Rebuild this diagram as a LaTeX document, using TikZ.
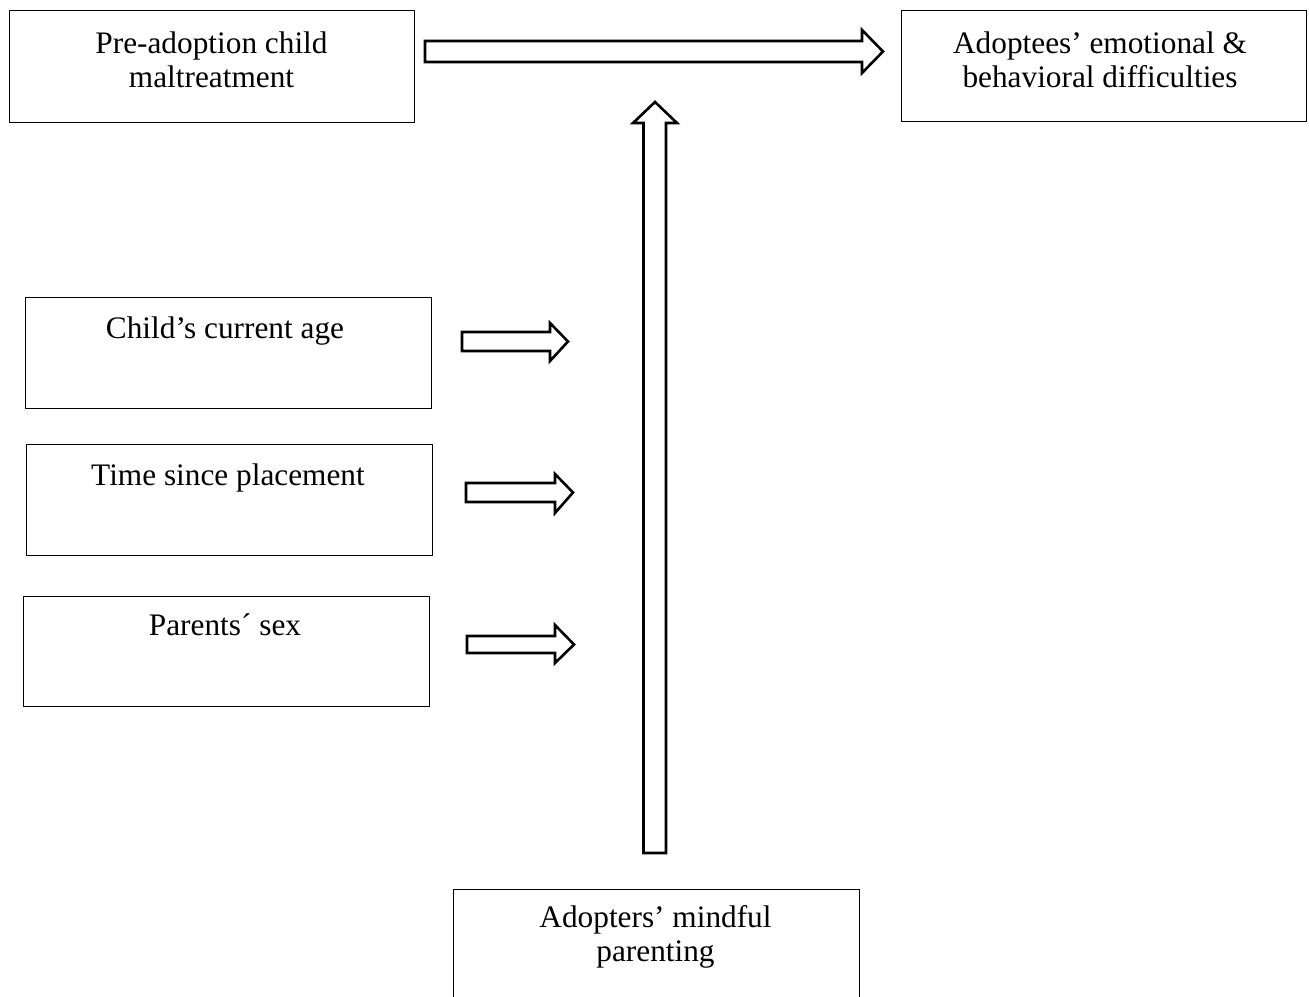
\documentclass[tikz,border=0pt]{standalone}
\usepackage{fontspec}
\setmainfont{Liberation Serif}
\begin{document}
\begin{tikzpicture}[x=1pt,y=-1pt,
  box/.style={draw, line width=1.2pt, inner sep=0, anchor=north west},
  lbl/.style={font=\fontsize{31.3}{34.5}\selectfont, align=center, inner sep=0, anchor=base},
  blockarrow/.style={draw, line width=2.6pt, fill=white, line join=miter}]
\useasboundingbox (0,0) rectangle (1309,996);
\clip (0,0) rectangle (1309,996);
% boxes
\node[box, minimum width=405, minimum height=112] (pre) at (9,10) {};
\node[box, minimum width=405, minimum height=111] (out) at (901,10) {};
\node[box, minimum width=406, minimum height=111] (age) at (25,297) {};
\node[box, minimum width=406, minimum height=111] (time) at (26,444) {};
\node[box, minimum width=406, minimum height=110] (sex) at (23,596) {};
\node[box, minimum width=406, minimum height=130] (mind) at (453,889) {};
% texts (base anchor = last line baseline)
\node[lbl] (pretxt) at (211.5,87.5) {Pre-adoption child\\maltreatment};
\node[lbl] (outtxt) at (1100,87.5) {Adoptees’ emotional \&\\behavioral difficulties};
\node[lbl] (agetxt) at (225,338) {Child’s current age};
\node[lbl] (timetxt) at (228,485) {Time since placement};
\node[lbl] (sextxt) at (225,635) {Parents´ sex};
\node[lbl] (mindtxt) at (655.5,961.5) {Adopters’ mindful\\parenting};
% block arrows
\draw[blockarrow] (425,41) -- (862,41) -- (862,30) -- (883,51.5) -- (862,73) -- (862,62) -- (425,62) -- cycle;
\draw[blockarrow] (643.5,853) -- (643.5,123) -- (633,123) -- (655,102) -- (677,123) -- (666,123) -- (666,853) -- cycle;
\draw[blockarrow] (462,332) -- (550,332) -- (550,323) -- (568,341.5) -- (550,361) -- (550,351) -- (462,351) -- cycle;
\draw[blockarrow] (466,483) -- (555,483) -- (555,474) -- (573,492.5) -- (555,513) -- (555,502) -- (466,502) -- cycle;
\draw[blockarrow] (467,636) -- (555,636) -- (555,625) -- (574,644.5) -- (555,663) -- (555,653) -- (467,653) -- cycle;
\end{tikzpicture}
\end{document}
